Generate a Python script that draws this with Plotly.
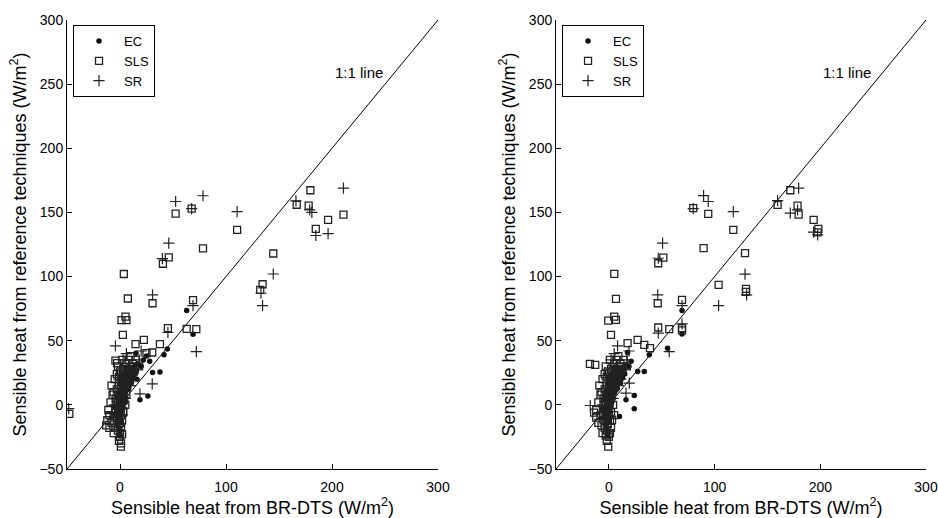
"""Sensible heat from reference techniques vs BR-DTS, two panels"""

import plotly.graph_objects as go
from plotly.subplots import make_subplots

# ---- left panel data ----
left_ec_x = [62.9, 68.9, 15, 44.6, 41.5, 37.7, 30.7, 26.3, 18.8,
             -4, -3, -2, -1, 0, 0, 1, 2, 3, 4, 5, 6, 7, 8, 9, 10, 11, 12, 13, 14, 15,
             -2, -1, 0, 1, 2, 3, 4, 5, 6, 8, 10, -3, -1, 1, 3, 0, -5, 16, 17, 20, 22, 25, 28,
             -1, 0, 1, 2, 3, 4, 5, 6, 7, 8, 2, 3, 5, 7, 9, 11, -2, 0, 1, 4, 6]
left_ec_y = [73.5, 55.1, 40.3, 43.6, 39, 25.7, 25.2, 7, 3.9,
             -8, -4, 0, -10, -6, 2, 5, 8, 12, 15, 10, 18, 20, 14, 22, 26, 18, 28, 22, 30, 25,
             -14, -18, -20, -12, -4, 0, 4, 6, 12, 24, 20, 6, 10, 16, 20, -24, -2, 20, 32, 30, 35, 38, 34,
             -2, 4, 9, 13, 17, 21, 16, 23, 12, 27, 24, 6, 2, 15, 17, 23, -8, -14, -6, 10, 24]

left_sls_x = [3.6, 40.5, 46, 52.5, 67.6, 78.3, 110.5, 144.6, 166.7, 179.6, 178, 196.3, 210.8, 184.7,
              134.5, 132.3, 7.4, 30.7, 5.2, 1.4, 6.1, 2.7, 68.9, 45.2, 62.9, 72, 14.7, 22.5, 37.7,
              30.4, 25, -4.3, -2.7, -47.8, 0.8,
              -12, -10, -8, -6, -5, -4, -3, -2, -1, 0, 0, 1, 2, -1, 0, 1, 2, -2, -4, -6, -3, 0, 1,
              3, 4, 2, 5, 6, 7, 8, 9, 10, 11, 12, 14, -7, -8, -5, -3, 0, 3, -9, -11, -13, -10, -6,
              4, 6, 3, 5, -1, 1, 8, 10, 2, -2, 6, 15, 18,
              -1, 0, 1, 2, 3, 0, 1, -1, 2, 4, 5, 7, 9, 11, 13, -2, -4, -1, 1, 3, 6, 8]
left_sls_y = [102, 110, 115, 149, 153, 122, 136.4, 118, 156, 167.3, 155.3, 144.2, 148.3, 137.2,
              94, 89.6, 82.9, 79.2, 68.8, 66, 66, 54.6, 81.6, 59.8, 59.2, 59, 47.3, 50.7, 47.3,
              40.8, 40.3, 34.5, 32.5, -7, -32.5,
              -12, -8, -14, -10, -18, -6, -12, -20, -15, -25, -22, -18, -23, -5, -2, 0, 3, 2, 5, 10,
              12, 8, 14, 10, 18, 20, 22, 15, 25, 20, 28, 24, 30, 32, 28, 8, 15, 20, 24, 26, 28, 2,
              -4, -16, -18, -22, 5, 8, -5, 0, -28, -30, 35, 38, 35, 30, 32, 35, 30,
              -10, -14, -8, -12, -6, 4, 6, 16, 10, 12, 14, 16, 18, 22, 26, 8, 0, 22, 24, 20, 24, 26]

left_sr_x = [40, 46, 52.5, 67.6, 78.3, 110.5, 144.6, 166, 210.8, 179, 181, 184.7, 196.3, 133,
             134.5, 30.7, 68.9, 45.2, 72, -4.3, 30.4, 18.8, -48.4,
             -8, -5, -2, 0, 2, 4, 6, 8, 10, 12, -3, 0, 2, 5, 15, 18, -1, 3, 6, 20]
left_sr_y = [114, 126, 158.5, 153, 163, 150.7, 102, 159, 168.9, 152, 150, 132, 133.5, 87,
             77.4, 85.7, 77.4, 56.4, 41.5, 46, 16.4, 8.6, -3,
             -6, 0, 5, 10, 15, 22, 28, 30, 15, 20, -10, -15, -8, 5, 28, 35, 20, 35, 40, 42]

# ---- right panel data ----
right_ec_x = [69.2, 69.2, 17.7, 33.5, 27.2, 16.2, 24, 55.5, 38.2,
              -5, -4, -3, -2, -1, 0, 1, 2, 3, 4, 5, 6, 7, 8, 9, 10, 11, 12, 13, 14,
              -3, -2, -1, 0, 1, 2, 3, 4, 6, 8, 10, -4, -2, 0, 2, -1, -6, 15, 16, 19, 21, 24,
              -2, -1, 0, 1, 2, 3, 4, 5, 6, 7, 1, 2, 4, 6, 8, 10, -3, -1, 0, 3, 5]
right_ec_y = [73.5, 55.3, 40.8, 26, 26, 3.9, 7.3, 44.2, 39,
              -10, -6, -2, -12, -8, 0, 4, 7, 11, 14, 9, 17, 20, 13, 22, 25, 17, 27, 21, 29,
              -15, -19, -21, -13, -5, -1, 3, 5, 11, 23, 19, 5, 9, 15, 19, -24, -3, 24, 31, 30, 34,
              -3, 3, 8, 12, 16, 20, 15, 22, 11, 26, 23, 5, 1, 14, 16, 22, -9, -15, -7, 9, 23]

right_sls_x = [5.1, 46.7, 51.5, 79.8, 94, 89.6, 117.7, 128.8, 159.6, 171.6, 178.5, 179.5, 193.7,
               198.2, 197.5, 103.8, 129.7, 129.7, 6.7, -0.6, 6.7, 5.1, 2, 46.2, 69.2, 46.7, 57.1,
               69.2, 69.2, 38.9, 33.5, 27.2, 17.7, -17.9, -12.9, -0.6,
               -14, -12, -10, -8, -7, -5, -4, -3, -2, -1, 0, 1, 2, -2, -1, 0, 1, -3, -5, -7, -4,
               -1, 0, 2, 3, 1, 4, 5, 6, 7, 8, 9, 10, 11, 13, -8, -9, -6, -4, -1, 2, -10, -12, -6,
               -3, 3, 5, 2, 4, -2, 0, 7, 9, 1, -3, 5, 14, 17, -1,
               -2, -1, 0, 1, 2, -1, 0, -2, 1, 3, 4, 6, 8, 10, 12, -3, -5, -2, 0, 2, 5, 7]
right_sls_y = [102.1, 110.4, 114.8, 153.3, 148.9, 122.1, 136.4, 118.2, 155.9, 167.3, 155.3, 148.3,
               144.2, 137.2, 134.5, 93.5, 90.4, 88, 82.6, 65.7, 66.3, 68.8, 54.6, 79.2, 81.8, 60.3,
               59, 59.8, 58, 44.2, 46.8, 50.7, 48.1, 32, 31.2, -32.5,
               -6, -10, -14, -8, -16, -12, -18, -6, -20, -15, -25, -22, -18, -4, -2, 0, 3, 2, 5,
               10, 12, 8, 14, 10, 18, 20, 22, 15, 25, 20, 28, 24, 30, 32, 28, 8, 15, 20, 24, 26,
               28, 2, -4, -22, -24, -12, -8, 5, 0, -28, -23, 35, 38, 35, 30, 32, 35, 30, 9,
               -10, -14, -8, -12, -6, 4, 6, 16, 10, 12, 14, 16, 18, 22, 26, 8, 0, 22, 24, 20, 24, 26]

right_sr_x = [46.7, 50.8, 79.8, 89.6, 94, 117.7, 128.8, 159.6, 179.5, 171.6, 178.5, 193.7, 197.5,
              103.8, 130.3, 46.2, 69.2, 69.2, 46.7, 57.1, 8.2, -17.6, 16.2, 19.3,
              -9, -6, -3, -1, 1, 3, 5, 7, 9, 11, -4, -1, 1, 4, 14, 17, -2, 2, 5, 19]
right_sr_y = [114.3, 126, 153, 163.1, 158.5, 150.7, 101.9, 159.2, 168.9, 149.4, 152, 134.6, 132.5,
              77.4, 85.7, 85.7, 77.4, 63.1, 55.9, 41.5, 46, -0.5, 9.1, 16.9,
              -6, 0, 5, 10, 15, 22, 28, 30, 15, 20, -10, -15, -8, 5, 28, 35, 20, 35, 40, 42]

one_to_one = [-50, 300]

FONT = "Liberation Sans, Arial, Helvetica, sans-serif"

fig = make_subplots(rows=1, cols=2)

panels = [
    (1, "legend", left_ec_x, left_ec_y, left_sls_x, left_sls_y, left_sr_x, left_sr_y),
    (2, "legend2", right_ec_x, right_ec_y, right_sls_x, right_sls_y, right_sr_x, right_sr_y),
]

for col, leg, ec_x, ec_y, sls_x, sls_y, sr_x, sr_y in panels:
    # 1:1 line
    fig.add_trace(
        go.Scatter(x=one_to_one, y=one_to_one, mode="lines", line=dict(color="black", width=1),
                   showlegend=False, hoverinfo="skip"),
        row=1, col=col,
    )
    fig.add_trace(
        go.Scatter(x=ec_x, y=ec_y, mode="markers", name="EC", legend=leg,
                   marker=dict(symbol="circle", size=5.5, color="#111")),
        row=1, col=col,
    )
    fig.add_trace(
        go.Scatter(x=sls_x, y=sls_y, mode="markers", name="SLS", legend=leg,
                   marker=dict(symbol="square-open", size=7, color="#222", line=dict(width=1.3))),
        row=1, col=col,
    )
    fig.add_trace(
        go.Scatter(x=sr_x, y=sr_y, mode="markers", name="SR", legend=leg,
                   marker=dict(symbol="cross-thin-open", size=8, color="#222", line=dict(width=1.2, color="#222"))),
        row=1, col=col,
    )
    fig.add_annotation(x=250, y=259, text="1:1 line", showarrow=False, xanchor="right", row=1, col=col,
                       font=dict(size=15, color="black", family=FONT))

axis_common = dict(
    showline=True, linecolor="black", linewidth=1, mirror=False, showgrid=False, zeroline=False,
    ticks="inside", ticklen=5, tickcolor="black", automargin=False,
    tickfont=dict(size=14, color="black", family=FONT),
)
fig.update_xaxes(range=[-50, 300], tickvals=[0, 100, 200, 300], ticklabelstandoff=5, **axis_common,
                 title=dict(text="Sensible heat from BR-DTS (W/m<sup>2</sup>)", standoff=14,
                            font=dict(size=18, color="black", family=FONT)))
fig.update_yaxes(range=[-50, 300], tickvals=[-50, 0, 50, 100, 150, 200, 250, 300], **axis_common,
                 title=dict(text="Sensible heat from reference techniques (W/m<sup>2</sup>)", standoff=8,
                            font=dict(size=18, color="black", family=FONT)))

legend_common = dict(
    bgcolor="white", bordercolor="black", borderwidth=1, xanchor="left", yanchor="top",
    font=dict(size=13, color="black", family=FONT), tracegroupgap=0, itemwidth=40,
)
fig.update_layout(
    width=938, height=518,
    margin=dict(l=67, r=12, t=20, b=49),
    paper_bgcolor="white", plot_bgcolor="white",
    legend=dict(x=0.007, y=0.989, **legend_common),
    legend2=dict(x=0.5693 + 0.007, y=0.989, **legend_common),
)
fig.update_xaxes(domain=[0, 0.4319], row=1, col=1)
fig.update_xaxes(domain=[0.5693, 1], row=1, col=2)

# drop the default page margin so the figure fills the window exactly
fig.write_html("out.html", config={"displayModeBar": False},
               post_script="document.body.style.margin = '0';")
